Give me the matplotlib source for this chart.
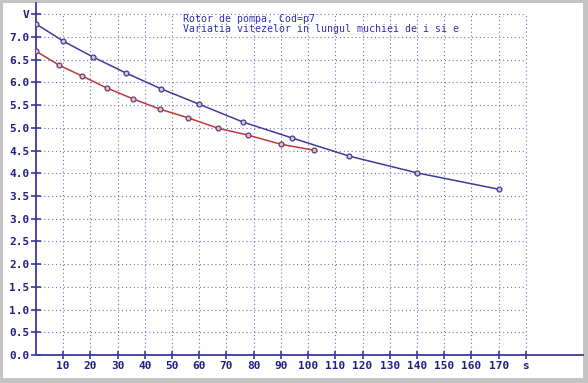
import matplotlib
matplotlib.use("Agg")
import matplotlib.pyplot as plt
import matplotlib.transforms as mtransforms
from matplotlib.patches import Rectangle

# Data
blue_x = [0, 10, 21, 33, 46, 60, 76, 94, 115, 140, 170]
blue_y = [7.29, 6.91, 6.56, 6.21, 5.86, 5.52, 5.13, 4.78, 4.38, 4.01, 3.65]
red_x = [0, 8.5, 17, 26, 35.6, 45.7, 56, 67, 78, 90, 102]
red_y = [6.69, 6.38, 6.14, 5.88, 5.64, 5.41, 5.22, 4.99, 4.84, 4.64, 4.51]

x_ticks = [10, 20, 30, 40, 50, 60, 70, 80, 90, 100, 110, 120, 130, 140, 150, 160, 170, 180]
x_labels = ["10", "20", "30", "40", "50", "60", "70", "80", "90", "100", "110", "120",
            "130", "140", "150", "160", "170", "s"]
y_ticks = [0.0, 0.5, 1.0, 1.5, 2.0, 2.5, 3.0, 3.5, 4.0, 4.5, 5.0, 5.5, 6.0, 6.5, 7.0, 7.5]
y_labels = ["0.0", "0.5", "1.0", "1.5", "2.0", "2.5", "3.0", "3.5", "4.0", "4.5", "5.0",
            "5.5", "6.0", "6.5", "7.0", "V"]
title_lines = ["Rotor de pompa, Cod=p7", "Variatia vitezelor in lungul muchiei de i si e"]

W, H = 588, 383
fig = plt.figure(figsize=(W / 100, H / 100), dpi=100, facecolor="#c4c4c4")
fig.patches.append(Rectangle((3 / W, 5 / H), 580 / W, 375 / H, transform=fig.transFigure,
                             facecolor="white", edgecolor="none", zorder=-10))

ax = fig.add_axes([36 / W, (H - 355) / H, (583 - 36) / W, (355 - 3) / H])
ax.set_zorder(1)
ax.set_facecolor("none")
ax.set_xlim(0, 201)
ax.set_ylim(0, 7.75)

axis_col = "#3a3a9e"
grid_col = "#7070c0"
for s in ["top", "right"]:
    ax.spines[s].set_visible(False)
for s in ["left", "bottom"]:
    ax.spines[s].set_color(axis_col)
    ax.spines[s].set_linewidth(1.3)

# grid
ax.vlines(x_ticks, 0, y_ticks[-1], colors=grid_col, linestyles=(0, (1, 2.5)), linewidth=0.8, zorder=1)
ax.hlines(y_ticks[1:], 0, x_ticks[-1], colors=grid_col, linestyles=(0, (1, 2.5)), linewidth=0.8, zorder=1)

ax.set_xticks(x_ticks)
ax.set_xticklabels(x_labels)
ax.set_yticks(y_ticks)
ax.set_yticklabels(y_labels)
shift = mtransforms.ScaledTranslation(3 / 100, 0, fig.dpi_scale_trans)
for lab in ax.get_xticklabels():
    lab.set_transform(lab.get_transform() + shift)
for lab in ax.get_xticklabels() + ax.get_yticklabels():
    lab.set_fontfamily("DejaVu Sans Mono")
    lab.set_fontweight("bold")
    lab.set_fontsize(8)
    lab.set_color("#202080")
ax.tick_params(axis="x", direction="inout", length=6, width=1.2, color=axis_col, pad=1)
ax.tick_params(axis="y", direction="inout", length=7, width=1.2, color=axis_col, pad=1)

ax.plot(blue_x, blue_y, color="#3c3ca0", linewidth=1.1, zorder=3)
ax.plot(blue_x, blue_y, linestyle="none", marker="o", markersize=3.5,
        markerfacecolor="#c8c8e8", markeredgecolor="#4a3a8a", markeredgewidth=0.9, zorder=4)
ax.plot(red_x, red_y, color="#c03838", linewidth=1.1, zorder=3)
ax.plot(red_x, red_y, linestyle="none", marker="o", markersize=3.5,
        markerfacecolor="#e0c0d0", markeredgecolor="#6a3a6a", markeredgewidth=0.9, zorder=4)

fig.text(183 / W, 1 - 19 / H, title_lines[0], family="DejaVu Sans Mono", size=7.1,
         color="#3030b0", va="center", ha="left")
fig.text(183 / W, 1 - 29 / H, title_lines[1], family="DejaVu Sans Mono", size=7.1,
         color="#3030b0", va="center", ha="left")

fig.savefig("out.png", dpi=100, facecolor=fig.get_facecolor())
